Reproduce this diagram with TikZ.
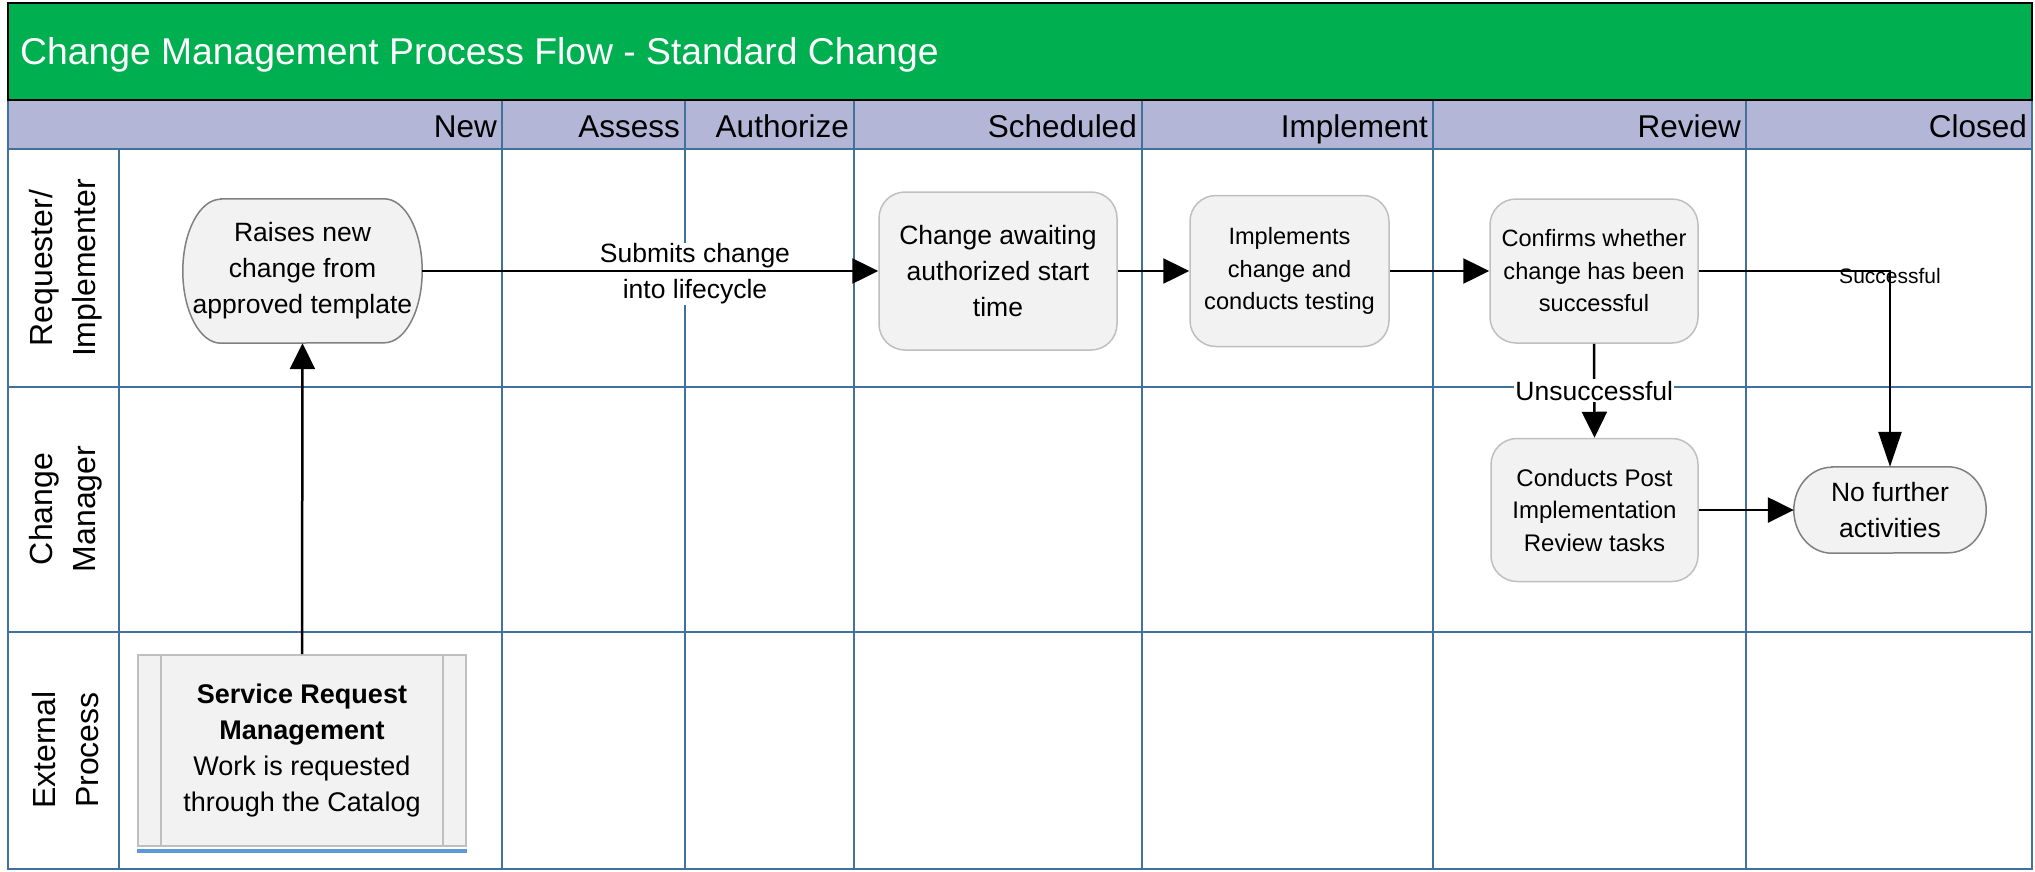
\documentclass[tikz,border=0pt]{standalone}
\usepackage{fontspec}
\setmainfont{Liberation Sans}
\usetikzlibrary{arrows.meta}
\definecolor{titlegreen}{HTML}{00B050}
\definecolor{gridblue}{HTML}{41719C}
\definecolor{headfill}{HTML}{B3B6D6}
\definecolor{boxfill}{HTML}{F2F2F2}
\definecolor{boxline}{HTML}{BFBFBF}
\definecolor{termgray}{HTML}{808080}
\definecolor{srmblue}{HTML}{5B9BD5}
\pgfdeclarelayer{gridlayer}
\pgfdeclarelayer{shapelayer}
\pgfsetlayers{gridlayer,shapelayer,main}
\begin{document}
\begin{tikzpicture}[x=1pt,y=-1pt,
  gridline/.style={draw=gridblue,line width=2pt},
  txt/.style={align=center,inner sep=0pt},
  procbox/.style={txt,draw=boxline,fill=boxfill,line width=1.5pt,rounded corners=26pt},
  termshape/.style={draw=termgray,fill=boxfill,line width=1.5pt},
  conn/.style={line width=2.5pt,-{Triangle[length=26pt,width=25pt]}},
  headlbl/.style={anchor=base east,inner sep=0pt,font=\fontsize{31.5}{38}\selectfont},
  lanelbl/.style={rotate=90,align=center,inner sep=0pt,font=\fontsize{32}{43}\selectfont},
  f265/.style={font=\fontsize{26.5}{36}\selectfont},
  f235/.style={font=\fontsize{23.6}{32.5}\selectfont},
]
\useasboundingbox (0,0) rectangle (2035,871);

% ---------- grid ----------
\begin{pgfonlayer}{gridlayer}
  \fill[headfill] (8,100) rectangle (2032,149);
  \draw[gridline] (8,100) rectangle (2032,869);
  \draw[gridline] (8,149) -- (2032,149);
  \draw[gridline] (119,149) -- (119,869);
  \foreach \cx in {502,685,854,1142,1433,1746}
    \draw[gridline] (\cx,100) -- (\cx,869);
  \draw[gridline] (8,387) -- (2032,387);
  \draw[gridline] (8,632) -- (2032,632);
  \draw[fill=titlegreen,draw=black,line width=2pt] (8,3) rectangle (2032,100);
\end{pgfonlayer}

% ---------- title and headers ----------
\node[anchor=west,inner sep=0pt,text=white,font=\fontsize{37.3}{44}\selectfont] (title) at (20,55)
  {Change Management Process Flow - Standard Change};
\node[headlbl] (hNew) at (497,137) {New};
\node[headlbl] (hAssess) at (680,137) {Assess};
\node[headlbl] (hAuth) at (849,137) {Authorize};
\node[headlbl] (hSched) at (1137,137) {Scheduled};
\node[headlbl] (hImpl) at (1428,137) {Implement};
\node[headlbl] (hRev) at (1741,137) {Review};
\node[headlbl] (hClosed) at (2027,137) {Closed};

% ---------- lane labels ----------
\node[lanelbl] (lane1) at (66,268) {Requester/\\Implementer};
\node[lanelbl] (lane2) at (66,509) {Change\\Manager};
\node[lanelbl] (lane3) at (66,750) {External\\Process};

% ---------- nodes ----------
\node[txt,f265,minimum width=239pt,minimum height=144pt] (raise) at (302.5,271)
  {Raises new\\change from\\approved template};
\node[procbox,f265,minimum width=238pt,minimum height=158pt] (await) at (998,271)
  {Change awaiting\\authorized start\\time};
\node[procbox,f235,minimum width=199pt,minimum height=151pt] (impl) at (1289.5,271)
  {Implements\\change and\\conducts testing};
\node[procbox,f235,minimum width=208pt,minimum height=144pt] (conf) at (1594,271)
  {Confirms whether\\change has been\\successful};
\node[procbox,font=\fontsize{24}{32.5}\selectfont,minimum width=207pt,minimum height=143pt] (pir) at (1594.5,510)
  {Conducts Post\\Implementation\\Review tasks};
\node[txt,f265,minimum width=192pt,minimum height=86pt] (nofur) at (1890,510)
  {No further\\activities};
\node[txt,draw=boxline,fill=boxfill,line width=2pt,font=\fontsize{27}{36}\selectfont,
      minimum width=328pt,minimum height=191pt] (srm) at (302,750.5)
  {\textbf{Service Request}\\\textbf{Management}\\Work is requested\\through the Catalog};
\draw[boxline,line width=1.5pt] ([xshift=24pt]srm.north west) -- ([xshift=24pt]srm.south west);
\draw[boxline,line width=1.5pt] ([xshift=-24pt]srm.north east) -- ([xshift=-24pt]srm.south east);
\draw[srmblue,line width=4pt] ([yshift=-4pt]srm.south west) -- ([yshift=-4pt]srm.south east);

% terminator outlines
\begin{pgfonlayer}{shapelayer}
  \draw[termshape] ([xshift=38pt]raise.north west) -- ([xshift=-38pt]raise.north east)
    arc[start angle=90,end angle=-90,x radius=38pt,y radius=72pt]
    -- ([xshift=38pt]raise.south west)
    arc[start angle=270,end angle=90,x radius=38pt,y radius=72pt] -- cycle;
  \draw[termshape] ([xshift=38pt]nofur.north west) -- ([xshift=-38pt]nofur.north east)
    arc[start angle=90,end angle=-90,x radius=38pt,y radius=43pt]
    -- ([xshift=38pt]nofur.south west)
    arc[start angle=270,end angle=90,x radius=38pt,y radius=43pt] -- cycle;
\end{pgfonlayer}

% ---------- connectors ----------
\node[txt,fill=white,inner sep=1pt,font=\fontsize{26.5}{36}\selectfont] (submitlbl) at (695,274)
  {Submits change\\into lifecycle};
\draw[conn] (srm.north) -- (raise.south);
\draw[conn] (raise.east) -- (await.west);
\draw[conn] (await.east) -- (impl.west);
\draw[conn] (impl.east) -- (conf.west);
\draw[line width=2.5pt,-{Triangle[length=35pt,width=23pt]}] (conf.east) -| 
  node[pos=0.5,yshift=-5pt,inner sep=0pt,font=\fontsize{21}{25}\selectfont] (succlbl) {Successful}
  (nofur.north);
\draw[conn] (conf.south) -- node[fill=white,inner xsep=1pt,inner ysep=2pt,f265] (unsucclbl) {Unsuccessful} (pir.north);
\draw[conn] (pir.east) -- (nofur.west);
\end{tikzpicture}
\end{document}
